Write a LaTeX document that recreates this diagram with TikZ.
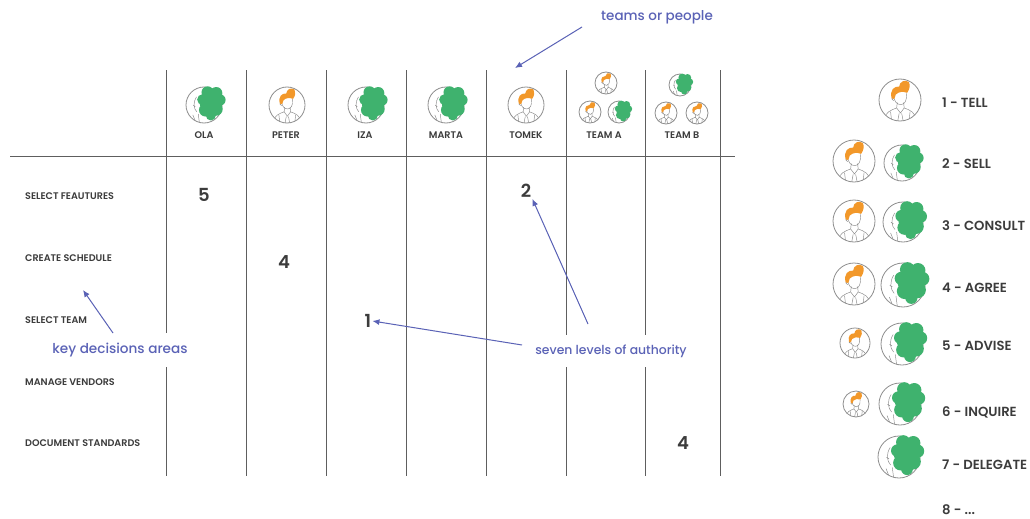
\documentclass[tikz,border=0pt]{standalone}
\usepackage{fontspec}
\setmainfont{Poppins}
\newfontfamily\medfont{Poppins Medium}
\newfontfamily\semifont{Poppins SemiBold}
\usetikzlibrary{arrows.meta}
\definecolor{gridcol}{HTML}{5E5E5E}
\definecolor{inkcol}{HTML}{3C3C3C}
\definecolor{notecol}{HTML}{5A62B6}
\definecolor{haircol}{HTML}{F2982A}
\definecolor{leafcol}{HTML}{3FB26E}
\definecolor{ringcol}{HTML}{8E8E8E}
\definecolor{facecol}{HTML}{888888}
\tikzset{
  gridline/.style={draw=gridcol, line width=1pt},
  rowlabel/.style={font=\fontsize{9.6}{11}\selectfont\semifont, text=inkcol, anchor=west, inner sep=0pt},
  colname/.style={font=\fontsize{9.6}{11}\selectfont\semifont, text=inkcol, inner sep=0pt},
  levelnum/.style={font=\fontsize{18}{20}\selectfont\semifont, text=inkcol, inner sep=1pt},
  legendtext/.style={font=\fontsize{13.2}{15}\selectfont\semifont, text=inkcol, anchor=west, inner sep=0pt},
  notetext/.style={text=notecol, fill=white, inner xsep=4pt, inner ysep=10pt},
  note/.style={draw=notecol, line width=1pt, -{Latex[length=7pt,width=6pt]}},
  ring/.style={draw=ringcol, line width=0.8pt},
  face/.style={draw=facecol, line width=0.45pt},
  % a man: orange hair, plain face, collar and tie (drawn in a unit circle)
  man/.pic={
    \begin{scope}
      \clip (0,0) circle (1);
      \draw[face] (-0.8,1) .. controls (-0.72,0.58) and (-0.42,0.47) .. (-0.16,0.38)
                  (0.2,0.38) .. controls (0.46,0.47) and (0.74,0.58) .. (0.8,1);
      \draw[face] (-0.16,0.38) -- (0.02,0.62) -- (0.2,0.38)
                  (-0.04,0.64) -- (-0.12,1.05) (0.08,0.64) -- (0.16,1.05)
                  (-0.45,0.55) -- (-0.4,1) (0.48,0.55) -- (0.43,1);
    \end{scope}
    \draw[face] (-0.13,0.12) -- (-0.16,0.38) (0.17,0.12) -- (0.2,0.38);
    \draw[face] (-0.3,-0.28) .. controls (-0.33,0.08) and (-0.12,0.22) .. (0.04,0.22)
                .. controls (0.24,0.21) and (0.33,0.02) .. (0.31,-0.32);
    \draw[face] (-0.3,-0.12) .. controls (-0.42,-0.14) and (-0.42,0.02) .. (-0.3,0.04);
    \fill[haircol] (-0.4,-0.08) .. controls (-0.5,-0.48) and (-0.28,-0.66) .. (-0.04,-0.64)
                .. controls (-0.02,-0.86) and (0.2,-1.0) .. (0.42,-0.86)
                .. controls (0.5,-0.7) and (0.46,-0.52) .. (0.34,-0.34)
                .. controls (0.14,-0.42) and (-0.06,-0.4) .. (-0.2,-0.26)
                -- (-0.27,-0.05) -- cycle;
    \draw[ring] (0,0) circle (1);
  },
  % a woman: profile on the left, large green hair to the right
  woman/.pic={
    \draw[face] (-0.42,-0.45) .. controls (-0.62,-0.15) and (-0.58,0.2) .. (-0.4,0.38)
                (-0.6,0.02) -- (-0.48,0.08) (-0.32,0.5) -- (-0.26,0.96)
                (-0.62,0.55) -- (-0.5,0.85);
    \draw[ring] (0,0) circle (1);
    \fill[leafcol] (0.38,-0.2) circle (0.64)
                   (0.88,-0.28) circle (0.32) (0.68,-0.66) circle (0.34)
                   (0.2,-0.7) circle (0.34) (-0.08,-0.3) circle (0.3)
                   (0.08,0.28) circle (0.36) (0.66,0.22) circle (0.38)
                   (0.38,0.58) circle (0.28);
  }
}
\begin{document}
\begin{tikzpicture}[x=1pt,y=-1pt]
\useasboundingbox[fill=white] (0,0) rectangle (1030,519);

% table frame
\draw[gridline] (10,156) -- (735,156);
\foreach \gx in {166,246,326,406,486,566,645,720}
  \draw[gridline] (\gx,70) -- (\gx,476);

% column heads
\pic[scale=18] at (204,105) {woman};
\pic[scale=18] at (287,105) {man};
\pic[scale=18] at (366,105) {woman};
\pic[scale=18] at (446,105) {woman};
\pic[scale=18] at (526,105) {man};
\pic[scale=11] at (606,83) {man};
\pic[scale=11] at (590,112) {man};
\pic[scale=11] at (619,112) {woman};
\pic[scale=11] at (680,85) {woman};
\pic[scale=11] at (666,113) {man};
\pic[scale=11] at (697,113) {man};

\node[colname] (hOla)   at (204,135) {OLA};
\node[colname] (hPeter) at (286,135) {PETER};
\node[colname] (hIza)   at (365,135) {IZA};
\node[colname] (hMarta) at (446,135) {MARTA};
\node[colname] (hTomek) at (526,135) {TOMEK};
\node[colname] (hTeamA) at (604,135) {TEAM A};
\node[colname] (hTeamB) at (682,135) {TEAM B};

% decision areas
\node[rowlabel] (rFeat)  at (25,196) {SELECT FEAUTURES};
\node[rowlabel] (rSched) at (25,258) {CREATE SCHEDULE};
\node[rowlabel] (rTeam)  at (25,320) {SELECT TEAM};
\node[rowlabel] (rVend)  at (25,382) {MANAGE VENDORS};
\node[rowlabel] (rDocs)  at (25,443) {DOCUMENT STANDARDS};

% authority levels in the table
\node[levelnum] (vOla)   at (204,195) {5};
\node[levelnum] (vPeter) at (284,262) {4};
\node[levelnum] (vIza)   at (368,321) {1};
\node[levelnum] (vTomek) at (526,191) {2};
\node[levelnum] (vTeamB) at (683,443) {4};

% notes
\node[notetext, font=\fontsize{13.5}{15}\selectfont\medfont] (nPeople) at (657,17) {teams or people};
\node[notetext, font=\fontsize{13.6}{15}\selectfont\medfont] (nAreas) at (120,350) {key decisions areas};
\node[notetext, font=\fontsize{12.4}{14}\selectfont\medfont] (nLevels) at (611,351) {seven levels of authority};

\coordinate (pFrom) at (582,27);
\coordinate (pTo) at (515,68);
\coordinate (aFrom) at (113,333);
\coordinate (aTo) at (83,290);
\coordinate (lFromA) at (522,345);
\coordinate (lFromB) at (588,324);
\draw[note] (pFrom) -- (pTo);
\draw[note] (aFrom) -- (aTo);
\draw[note] (lFromA) -- (vIza.east);
\draw[note] (lFromB) -- (vTomek.south east);

% legend
\pic[scale=21] at (900,100) {man};
\node[legendtext] (g1) at (942,103) {1 - TELL};

\pic[scale=21] at (854,161) {man};
\pic[scale=18] at (902,163) {woman};
\node[legendtext] (g2) at (942,164) {2 - SELL};

\pic[scale=21] at (854,221) {man};
\pic[scale=20] at (903,222) {woman};
\node[legendtext] (g3) at (942,226) {3 - CONSULT};

\pic[scale=21] at (854,284) {man};
\pic[scale=22] at (903,285) {woman};
\node[legendtext] (g4) at (942,288) {4 - AGREE};

\pic[scale=15] at (855,343) {man};
\pic[scale=21] at (902,344) {woman};
\node[legendtext] (g5) at (942,346) {5 - ADVISE};

\pic[scale=13] at (856,404) {man};
\pic[scale=21] at (900,404) {woman};
\node[legendtext] (g6) at (942,412) {6 - INQUIRE};

\pic[scale=21] at (899,457) {woman};
\node[legendtext] (g7) at (942,465) {7 - DELEGATE};

\node[legendtext] (g8) at (942,510) {8 - ...};
\end{tikzpicture}
\end{document}
